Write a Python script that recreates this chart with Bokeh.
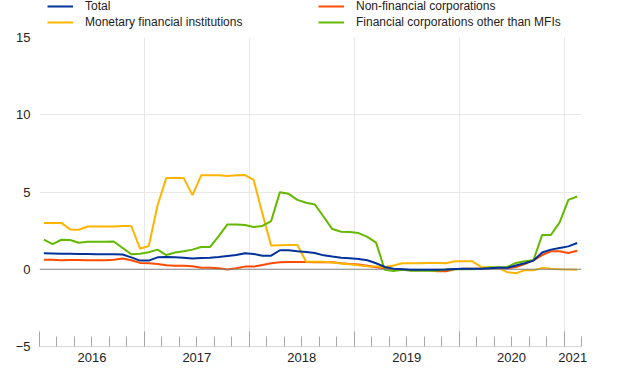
from bokeh.plotting import figure
from bokeh.layouts import column
from bokeh.models import (Legend, LegendItem, LinearAxis, FixedTicker, Span, Range1d, Grid)
from bokeh.embed import file_html
from bokeh.resources import INLINE

# Monthly data, Jan 2016 .. Feb 2021 (annual growth rates, %)
total = [1.03, 1.02, 1.01, 1.00, 0.99, 0.98, 0.97, 0.97, 0.97, 0.95, 0.77, 0.56,
         0.56, 0.77, 0.80, 0.78, 0.75, 0.69, 0.73, 0.75, 0.80, 0.86, 0.92, 1.03,
         0.99, 0.88, 0.88, 1.23, 1.23, 1.16, 1.12, 1.05, 0.90, 0.82, 0.75, 0.71,
         0.67, 0.58, 0.39, 0.15, 0.04, 0.00, -0.04, -0.04, -0.04, -0.04, -0.02, 0.02,
         0.04, 0.04, 0.04, 0.06, 0.09, 0.09, 0.24, 0.39, 0.56, 1.08, 1.27, 1.38,
         1.48, 1.70]
nfc = [0.62, 0.62, 0.58, 0.60, 0.60, 0.58, 0.58, 0.58, 0.62, 0.69, 0.58, 0.41,
       0.39, 0.34, 0.26, 0.22, 0.22, 0.19, 0.09, 0.09, 0.07, -0.02, 0.06, 0.17,
       0.17, 0.28, 0.39, 0.45, 0.47, 0.47, 0.47, 0.45, 0.45, 0.45, 0.39, 0.34,
       0.30, 0.22, 0.13, 0.06, 0.00, -0.02, -0.06, -0.06, -0.06, -0.13, -0.13, 0.00,
       0.04, 0.04, 0.04, 0.06, 0.06, 0.06, 0.15, 0.34, 0.58, 0.92, 1.16, 1.16,
       1.05, 1.20]
mfi = [3.00, 3.00, 3.00, 2.58, 2.56, 2.77, 2.77, 2.77, 2.77, 2.80, 2.80, 1.33,
       1.50, 4.13, 5.90, 5.90, 5.90, 4.80, 6.08, 6.08, 6.08, 6.04, 6.08, 6.10,
       5.78, 3.60, 1.53, 1.55, 1.57, 1.57, 0.49, 0.49, 0.49, 0.43, 0.37, 0.32,
       0.26, 0.19, 0.17, 0.15, 0.24, 0.39, 0.39, 0.39, 0.41, 0.41, 0.39, 0.52,
       0.52, 0.52, 0.15, 0.13, 0.09, -0.19, -0.26, -0.06, -0.06, 0.09, 0.04, 0.00,
       -0.02, -0.04]
ofc = [1.92, 1.63, 1.91, 1.89, 1.72, 1.78, 1.78, 1.78, 1.80, 1.38, 0.97, 1.01,
       1.10, 1.27, 0.92, 1.08, 1.16, 1.27, 1.44, 1.44, 2.15, 2.90, 2.90, 2.86,
       2.73, 2.80, 3.12, 4.99, 4.88, 4.49, 4.30, 4.19, 3.40, 2.60, 2.43, 2.41,
       2.34, 2.10, 1.72, -0.04, -0.12, -0.04, -0.09, -0.09, -0.09, -0.09, -0.02, 0.00,
       0.00, 0.00, 0.04, 0.11, 0.13, 0.15, 0.41, 0.52, 0.58, 2.22, 2.22, 3.03,
       4.49, 4.71]

month_index = list(range(len(total)))
x = [m + 0.5 for m in month_index]   # plotted mid-month

series_labels = ["Total", "Monetary financial institutions",
                 "Non-financial corporations", "Financial corporations other than MFIs"]
year_labels = ["2016", "2017", "2018", "2019", "2020", "2021"]
year_label_pos = [6, 18, 30, 42, 54, 61]
year_starts = [0, 12, 24, 36, 48, 60]
y_ticks = [-5, 0, 5, 10, 15]

FONT = "Liberation Sans"
BLUE, ORANGE, YELLOW, GREEN = "#003299", "#ff4b00", "#ffb400", "#65b800"

# ---------------- main chart ----------------
p = figure(width=600, height=347, x_range=Range1d(0, 62), y_range=Range1d(-5, 15),
           output_backend="svg", toolbar_location=None, x_axis_type=None,
           min_border_left=39, min_border_right=19, min_border_top=8, min_border_bottom=30)
p.outline_line_color = None
p.background_fill_color = "white"
p.border_fill_color = "white"

p.ygrid.ticker = FixedTicker(ticks=[5, 10, 15])
p.ygrid.grid_line_color = "#e8e8e8"
p.ygrid.grid_line_width = 1
xgrid = Grid(dimension=0, ticker=FixedTicker(ticks=year_starts),
             grid_line_color="#e8e8e8", grid_line_width=1)
p.add_layout(xgrid)

ya = p.yaxis[0]
ya.ticker = FixedTicker(ticks=y_ticks)
ya.axis_line_color = None
ya.major_tick_line_color = None
ya.minor_tick_line_color = None
ya.major_tick_in = 0
ya.major_tick_out = 0
ya.minor_tick_in = 0
ya.minor_tick_out = 0
ya.major_label_standoff = 9
ya.major_label_text_font = FONT
ya.major_label_text_font_size = "13px"
ya.major_label_text_color = "#222222"

# x axis: tick marks at year boundaries and every two months (no labels)
ax_ticks = LinearAxis(ticker=FixedTicker(ticks=year_starts, minor_ticks=list(range(0, 63, 2))),
                      major_tick_in=15, major_tick_out=0, minor_tick_in=10, minor_tick_out=0,
                      major_tick_line_color="#a6a6a6", minor_tick_line_color="#a6a6a6",
                      axis_line_color="#d9d9d9", major_label_text_font_size="0px",
                      major_label_standoff=0)
p.add_layout(ax_ticks, "below")
# x axis: year labels centred in each year
ax_labels = LinearAxis(ticker=FixedTicker(ticks=year_label_pos, minor_ticks=[]),
                       major_label_overrides={pos: lab for pos, lab in zip(year_label_pos, year_labels)},
                       major_tick_in=0, major_tick_out=0, minor_tick_in=0, minor_tick_out=0,
                       major_tick_line_color=None, minor_tick_line_color=None,
                       axis_line_color=None, major_label_standoff=6,
                       major_label_text_font=FONT, major_label_text_font_size="13px",
                       major_label_text_color="#222222")
p.add_layout(ax_labels, "below")

p.add_layout(Span(location=0, dimension="width", line_color="#808080", line_width=1.2))

p.line(x, total, line_color=BLUE, line_width=2, level="overlay")
p.line(x, nfc, line_color=ORANGE, line_width=2)
p.line(x, mfi, line_color=YELLOW, line_width=2)
p.line(x, ofc, line_color=GREEN, line_width=2)

# ---------------- legend strip on top (its frame is aligned with the chart's) ----------------
lg = figure(width=600, height=29, x_range=Range1d(0, 62), y_range=Range1d(100, 101),
            output_backend="svg", toolbar_location=None, x_axis_type=None, y_axis_type=None,
            min_border_left=39, min_border_right=19, min_border_top=0, min_border_bottom=0)
lg.outline_line_color = None
lg.xgrid.visible = False
lg.ygrid.visible = False
# same series, drawn outside the strip's visible range; only their legend glyphs show
leg_renderers = [lg.line(x, s, line_color=c, line_width=2)
                 for s, c in ((total, BLUE), (mfi, YELLOW), (nfc, ORANGE), (ofc, GREEN))]
legend = Legend(items=[LegendItem(label=lab, renderers=[r]) for lab, r in zip(series_labels, leg_renderers)],
                orientation="vertical", ncols=2, location=(8, 0),
                padding=0, margin=0, spacing=2, glyph_width=26, glyph_height=10,
                label_height=10, label_width=231, label_standoff=12,
                label_text_font=FONT, label_text_font_size="12px", label_text_color="#222222",
                border_line_color=None, background_fill_alpha=0)
lg.add_layout(legend, "center")

layout = column(lg, p, spacing=0)
open("out.html", "w").write(file_html(layout, INLINE))
